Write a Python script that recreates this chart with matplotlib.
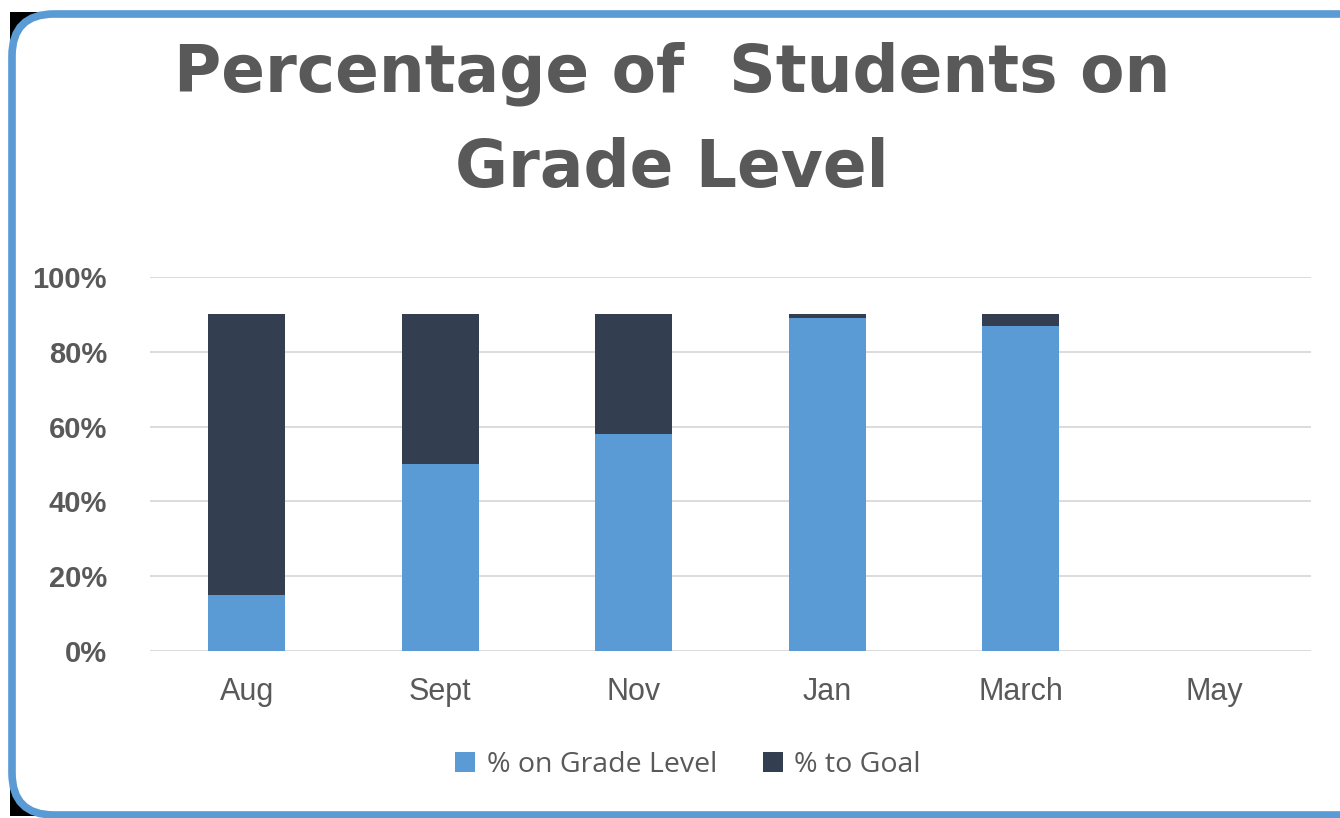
import matplotlib
matplotlib.use("Agg")
import matplotlib.pyplot as plt
import matplotlib.patches as patches
import numpy as np

months = ["Aug", "Sept", "Nov", "Jan", "March", "May"]
on_grade = [0.15, 0.50, 0.58, 0.89, 0.87, 0.0]
to_goal = [0.75, 0.40, 0.32, 0.01, 0.03, 0.0]
series_names = ["% on Grade Level", "% to Goal"]
y_ticks = [0, 0.2, 0.4, 0.6, 0.8, 1.0]

LIGHT = "#5B9BD5"
DARK = "#333F50"
GREY = "#595959"

W, H = 1340, 818
fig = plt.figure(figsize=(W / 100, H / 100), dpi=100)

# background frame in pixel units
bg = fig.add_axes([0, 0, 1, 1])
bg.set_xlim(0, W)
bg.set_ylim(H, 0)
bg.axis("off")
bg.add_patch(patches.Rectangle((10, 12), W, H - 14, facecolor="black", edgecolor="none"))
bg.add_patch(patches.FancyBboxPatch(
    (12, 14), W + 40, H - 17,
    boxstyle="round,pad=0,rounding_size=42",
    facecolor="white", edgecolor=LIGHT, linewidth=5.5))

ax = fig.add_axes([150 / W, 1 - 651 / H, (1311 - 150) / W, (651 - 277) / H])
ax.set_facecolor("none")

x = np.arange(len(months))
width = 0.4
ax.bar(x, on_grade, width, color=LIGHT, label=series_names[0], zorder=3)
ax.bar(x, to_goal, width, bottom=on_grade, color=DARK, label=series_names[1], zorder=3)

ax.set_xlim(-0.5, len(months) - 0.5)
ax.set_ylim(0, 1)
ax.set_yticks(y_ticks)
ax.set_yticklabels([f"{int(round(v * 100))}%" for v in y_ticks],
                   fontfamily="Liberation Sans", fontweight="bold",
                   fontsize=21, color=GREY)
ax.set_xticks(x)
ax.set_xticklabels(months, fontfamily="Liberation Sans", fontsize=22, color=GREY)
ax.tick_params(axis="y", length=0, pad=31)
ax.tick_params(axis="x", length=0, pad=19)
ax.grid(axis="y", color="#D9D9D9", linewidth=1.3, zorder=0)
for sp in ax.spines.values():
    sp.set_visible(False)

fig.text(672 / W, 1 - 92 / H, "Percentage of  Students on", ha="center", va="baseline",
         fontfamily="DejaVu Sans", fontweight="bold", fontsize=46.5, color=GREY)
fig.text(672 / W, 1 - 187 / H, "Grade Level", ha="center", va="baseline",
         fontfamily="DejaVu Sans", fontweight="bold", fontsize=46.5, color=GREY)

leg = ax.legend(loc="center", bbox_to_anchor=(688 / W, 1 - 765 / H),
                bbox_transform=fig.transFigure, ncol=2, frameon=False,
                handlelength=0.7, handleheight=0.7, handletextpad=0.4,
                columnspacing=1.6,
                prop={"family": "Open Sans", "size": 20.5})
for t in leg.get_texts():
    t.set_color(GREY)

fig.savefig("out.png", dpi=100)
